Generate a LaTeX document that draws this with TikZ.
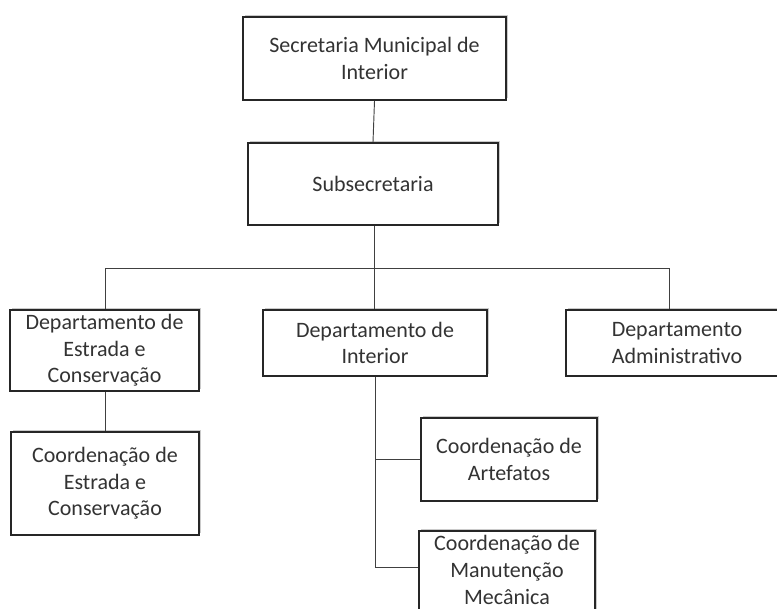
\documentclass[tikz,border=0pt]{standalone}
\usepackage{fontspec}
\setmainfont{Carlito}
\usetikzlibrary{shadows}
\begin{document}
\begin{tikzpicture}[x=0.75pt,y=-0.75pt,
  orgtext/.style={align=center, inner sep=0pt, font=\fontsize{16.5}{20}\selectfont, text=black!80},
  orgbox/.style={orgtext, draw=black!85, line width=1.3pt, fill=white,
    drop shadow={shadow xshift=1.2pt, shadow yshift=1.6pt, opacity=0.35, fill=black!60}},
  link/.style={draw=black!75, line width=0.7pt}]
\useasboundingbox (0,0) rectangle (777,608);
\node[orgbox, minimum width=263*0.75pt, minimum height=83*0.75pt] (sec) at (374.5,58.5) {Secretaria Municipal de\\Interior};
\node[orgbox, minimum width=250*0.75pt, minimum height=82*0.75pt] (sub) at (373,184) {Subsecretaria};
\node[orgbox, minimum width=189*0.75pt, minimum height=81*0.75pt] (de) at (104.5,350.5) {Departamento de\\Estrada e\\Conservação};
\node[orgbox, minimum width=224*0.75pt, minimum height=66*0.75pt] (di) at (375,343) {Departamento de\\Interior};
\node[orgbox, minimum width=222*0.75pt, minimum height=66*0.75pt] (da) at (677,343) {Departamento\\Administrativo};
\node[orgbox, minimum width=188*0.75pt, minimum height=103*0.75pt] (ce) at (105,483.5) {Coordenação de\\Estrada e\\Conservação};
\node[orgbox, minimum width=176*0.75pt, minimum height=83*0.75pt] (ca) at (509,459.5) {Coordenação de\\Artefatos};
\node[orgbox, minimum width=176*0.75pt, minimum height=94*0.75pt] (cm) at (507,578) {};
\node[orgtext] (cmt) at (507,570) {Coordenação de\\Manutenção\\Mecânica};
\coordinate (bus) at (374,268);
\coordinate (bl) at (105,268);
\coordinate (br) at (669,268);
\coordinate (vend) at (375,567);
\draw[link] (sec.south) -- (sub.north);
\draw[link] (sub.south -| bus) -- (bus);
\draw[link] (bl) -- (br);
\draw[link] (bl) -- (bl |- de.north);
\draw[link] (bus) -- (bus |- di.north);
\draw[link] (br) -- (br |- da.north);
\draw[link] (de.south -| bl) -- (ce.north -| bl);
\draw[link] (di.south -| vend) -- (vend) -- (vend -| cm.west);
\draw[link] (ca.west -| vend) -- (ca.west);
\end{tikzpicture}
\end{document}
